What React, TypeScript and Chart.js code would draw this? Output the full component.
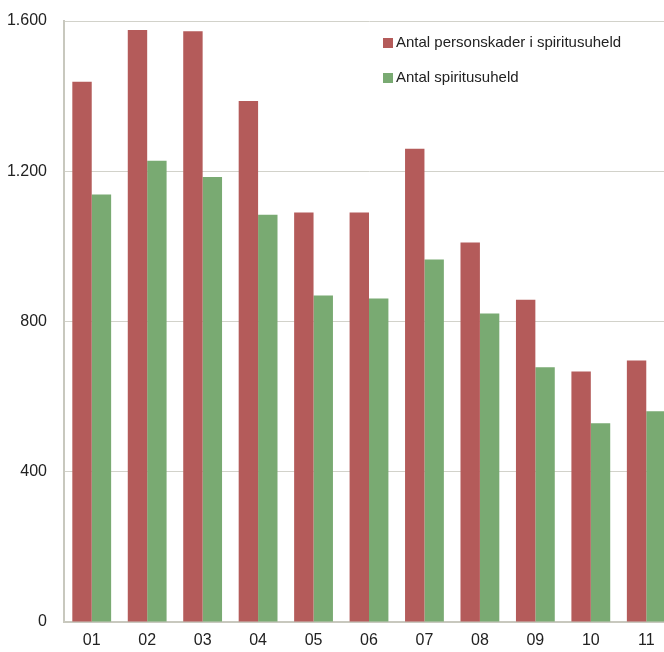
import React, { useEffect, useRef } from "react";
import { Chart, registerables } from "chart.js";

Chart.register(...registerables);

const categories = ["01", "02", "03", "04", "05", "06", "07", "08", "09", "10", "11"];
const personskader = [1438, 1576, 1573, 1387, 1090, 1090, 1260, 1010, 858, 667, 696];
const spiritusuheld = [1138, 1228, 1185, 1084, 869, 861, 965, 821, 678, 529, 561];
const yTicks = [0, 400, 800, 1200, 1600];
const seriesNames = ["Antal personskader i spiritusuheld", "Antal spiritusuheld"];
const seriesColors = ["#B45B5A", "#79AA72"];

const FONT = "'Liberation Sans', Arial, sans-serif";
const fmt = (v: number) => String(v).replace(/\B(?=(\d{3})+(?!\d))/g, ".");

const legendPlugin = {
  id: "insideLegend",
  afterDraw(chart: any) {
    const ctx = chart.ctx;
    ctx.save();
    ctx.font = "15px " + FONT;
    ctx.textBaseline = "middle";
    ctx.textAlign = "left";
    const x0 = 383;
    const ys = [43, 78];
    chart.data.datasets.forEach((ds: any, i: number) => {
      ctx.fillStyle = ds.backgroundColor;
      ctx.fillRect(x0, ys[i] - 5, 10, 10);
      ctx.fillStyle = "#222";
      ctx.fillText(ds.label, x0 + 13, ys[i]);
    });
    ctx.restore();
  },
};

export default function App() {
  const ref = useRef<HTMLCanvasElement>(null);
  useEffect(() => {
    if (!ref.current) return;
    const chart = new Chart(ref.current, {
      type: "bar",
      data: {
        labels: categories,
        datasets: [
          { label: seriesNames[0], data: personskader, backgroundColor: seriesColors[0] },
          { label: seriesNames[1], data: spiritusuheld, backgroundColor: seriesColors[1] },
        ],
      },
      options: {
        animation: false,
        responsive: false,
        maintainAspectRatio: false,
        layout: { padding: { top: 21, right: 2, left: 0, bottom: 0 } },
        datasets: { bar: { categoryPercentage: 0.7, barPercentage: 1.0 } },
        plugins: { legend: { display: false }, tooltip: { enabled: false } },
        scales: {
          x: {
            grid: { display: false, drawTicks: false },
            border: { color: "#C8C8BE", width: 2 },
            ticks: {
              color: "#222",
              padding: 9,
              font: { family: FONT, size: 16 },
            },
            afterFit: (s: any) => { s.height = 30; s.paddingLeft = 0; s.paddingRight = 0; },
          },
          y: {
            min: 0,
            max: 1600,
            afterBuildTicks: (s: any) => { s.ticks = yTicks.map((v) => ({ value: v })); },
            grid: { color: "#D2D2CA", lineWidth: 1, drawTicks: false },
            border: { color: "#C8C8BE", width: 2 },
            ticks: {
              color: "#222",
              padding: 17,
              font: { family: FONT, size: 16 },
              callback: (v: any) => fmt(Number(v)),
            },
            afterFit: (s: any) => { s.width = 64; s.paddingTop = 0; s.paddingBottom = 0; },
          },
        },
      },
      plugins: [legendPlugin],
    });
    return () => chart.destroy();
  }, []);
  return (
    <div style={{ position: "fixed", left: 0, top: 0, width: 664, height: 652, overflow: "hidden", background: "#fff" }}>
      <canvas ref={ref} width={676} height={652} style={{ width: 676, height: 652, display: "block" }} />
    </div>
  );
}
